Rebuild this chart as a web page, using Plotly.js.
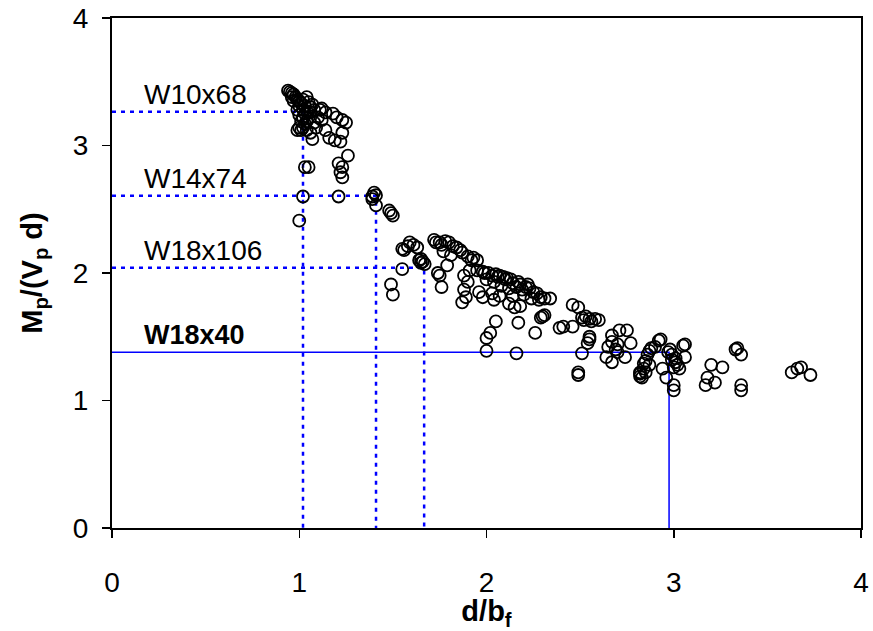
<!DOCTYPE html>
<html><head><meta charset="utf-8">
<script src="https://cdn.plot.ly/plotly-3.0.1.min.js"></script>
<style>html,body{margin:0;padding:0;background:#fff;}#chart{width:873px;height:631px;}</style>
</head><body><div id="chart"></div>
<script>
// Section data: d/bf (x) and Mp/(Vp d) (y)
const xA=[0.94,0.95,0.96,0.97,0.96,0.98,0.99,1.0,0.97,1.01,1.02,1.03,1.04,1.05,1.0,0.99,1.02,1.04,1.06,1.07,1.08,1.0,1.02,1.03,1.05,1.06,1.01,1.03,1.04,1.0,0.99,1.01,1.02,1.04,1.07,1.09,1.10,1.11,1.12,1.14,1.14,1.16,1.18,1.19,1.2,1.22,1.23,1.23,1.25,1.08,1.12,1.06,
1.03,1.05,1.02,1.0,1.21,1.26,1.21,1.23,1.23,1.22];
const yA=[3.43,3.42,3.41,3.40,3.38,3.38,3.36,3.35,3.35,3.33,3.36,3.31,3.38,3.34,3.31,3.28,3.28,3.27,3.30,3.32,3.28,3.24,3.22,3.25,3.22,3.26,3.19,3.17,3.19,3.14,3.12,3.12,3.14,3.12,3.05,3.14,3.22,3.28,3.29,3.26,3.12,3.06,3.25,3.04,3.22,3.03,3.2,3.1,3.18,3.18,3.2,3.1,
2.83,2.83,2.60,2.41,2.60,2.92,2.86,2.83,2.75,2.79];
const xB=[1.39,1.40,1.41,1.39,1.41,1.48,1.50,1.49,1.49,1.50,1.55,1.55,1.58,1.59,1.61,1.63,1.56,1.64,1.65,1.66,1.67,1.65];
const yB=[2.60,2.63,2.61,2.58,2.53,2.49,2.45,2.47,1.91,1.83,2.03,2.19,2.21,2.24,2.22,2.20,2.18,2.10,2.08,2.09,2.07,2.11];
const xC=[1.72,1.73,1.75,1.78,1.80,1.82,1.84,1.86,1.87,1.90,1.93,1.92,1.76,1.74,1.75,1.79,1.76,1.77,1.81,1.95];
const yC=[2.26,2.24,2.24,2.25,2.24,2.21,2.20,2.18,2.16,2.13,2.12,2.10,2.22,2.0,1.98,2.06,1.89,2.17,2.14,2.10];
const xD=[1.88,1.90,1.88,1.89,1.87,1.91,1.95,1.98,2.01,2.03,2.06,2.07,2.10,2.11,2.14,2.16,2.18,2.19,2.22,2.23,2.25,2.27,2.29,2.31,2.34,1.96,1.98,2.03,2.04,2.07,2.12,2.15,2.18,2.14,2.0,2.04,2.08,2.12,2.2,2.24,2.28,1.99,2.05,2.09,2.13,2.17,2.21];
const yD=[1.98,1.93,1.87,1.81,1.77,2.02,2.02,2.01,2.0,1.98,1.97,1.98,1.95,1.96,1.92,1.89,1.91,1.87,1.91,1.88,1.85,1.84,1.81,1.80,1.80,1.85,1.81,1.84,1.79,1.82,1.76,1.73,1.74,1.82,1.95,1.93,1.90,1.88,1.83,1.80,1.79,2.0,1.99,1.97,1.95,1.93,1.89];
const xE=[2.05,2.02,2.0,2.0,2.16,2.17,2.26,2.30,2.29,2.31];
const yE=[1.62,1.53,1.49,1.39,1.37,1.61,1.53,1.66,1.65,1.67];
const xF=[2.46,2.49,2.51,2.55,2.58,2.60,2.53,2.41,2.46,2.39,2.55,2.54,2.55,2.51,2.49,2.49,2.56,2.52];
const yF=[1.75,1.73,1.65,1.64,1.64,1.63,1.66,1.58,1.58,1.57,1.50,1.45,1.48,1.37,1.22,1.20,1.62,1.63];
const xG=[2.67,2.71,2.75,2.67,2.70,2.77,2.64,2.67,2.74,2.70,2.65,2.69];
const yG=[1.51,1.55,1.55,1.46,1.44,1.45,1.34,1.30,1.34,1.38,1.42,1.40];
const xH=[2.83,2.84,2.84,2.85,2.86,2.87,2.88,2.87,2.85,2.82,2.82,2.90,2.93,2.92,2.82];
const yH=[1.18,1.25,1.29,1.31,1.36,1.39,1.41,1.28,1.22,1.21,1.19,1.42,1.48,1.47,1.22];
const xI=[2.97,2.99,3.01,2.99,3.01,3.02,3.0,3.03,3.06,3.05,3.06,2.94,2.96,3.0,3.0,2.98];
const yI=[1.38,1.36,1.33,1.32,1.30,1.28,1.26,1.25,1.44,1.43,1.34,1.25,1.18,1.12,1.08,1.40];
const xJ=[3.2,3.26,3.18,3.17,3.22,3.34,3.33,3.36,3.36,3.36,3.63,3.66,3.68,3.73];
const yJ=[1.28,1.26,1.18,1.12,1.14,1.41,1.40,1.36,1.12,1.08,1.22,1.25,1.26,1.20];

// Reference sections
const refNames=["W10x68","W14x74","W18x106"];
const refX=[1.02,1.41,1.667];
const refY=[3.265,2.606,2.042];
const mainName="W18x40";
const mainX=2.975;
const mainY=1.378;
const labelY=[3.40,2.745,2.18];
const mainLabelY=1.51;

const xs=[].concat(xA,xB,xC,xD,xE,xF,xG,xH,xI,xJ);
const ys=[].concat(yA,yB,yC,yD,yE,yF,yG,yH,yI,yJ);

const FONT='Liberation Sans, Arial, sans-serif';
const traces=[];
for(let i=0;i<refX.length;i++){
  traces.push({x:[0,refX[i],refX[i]],y:[refY[i],refY[i],0],mode:'lines',
    line:{color:'#0000ff',width:2.5,dash:'4px,5px'},hoverinfo:'skip',showlegend:false});
}
traces.push({x:[0,mainX,mainX],y:[mainY,mainY,0],mode:'lines',
  line:{color:'#0000ff',width:1.5},hoverinfo:'skip',showlegend:false});
traces.push({x:xs,y:ys,mode:'markers',type:'scatter',showlegend:false,
  marker:{symbol:'circle-open',size:12,color:'#000',line:{width:1.8,color:'#000'}}});

const annotations=refNames.map((n,i)=>({x:0.16,y:labelY[i],xref:'x',yref:'y',text:n,showarrow:false,
  xanchor:'left',yanchor:'middle',font:{family:FONT,size:28,color:'#000'}}));
annotations.push({x:0.16,y:mainLabelY,xref:'x',yref:'y',text:'<b>'+mainName+'</b>',showarrow:false,
  xanchor:'left',yanchor:'middle',font:{family:FONT,size:27,color:'#000'}});

const axisCommon={range:[0,4],dtick:1,tick0:0,showgrid:false,zeroline:false,showline:true,mirror:true,
  linecolor:'#000',linewidth:2,ticks:'outside',ticklen:8,tickwidth:1.5,tickcolor:'#000',
  tickfont:{family:FONT,size:28,color:'#000'}};

const layout={width:873,height:631,margin:{l:112,r:12,t:18,b:103},
  paper_bgcolor:'#fff',plot_bgcolor:'#fff',showlegend:false,
  xaxis:Object.assign({},axisCommon,{ticklabelstandoff:20,title:{text:'<b>d/b<sub>f</sub></b>',standoff:2,
    font:{family:FONT,size:29,color:'#000'}}}),
  yaxis:Object.assign({},axisCommon,{ticklabelstandoff:8,title:{text:'<b>M<sub>p</sub>/(V<sub>p</sub> d)</b>',standoff:22,
    font:{family:FONT,size:29,color:'#000'}}}),
  annotations:annotations};

Plotly.newPlot('chart',traces,layout,{displayModeBar:false,staticPlot:true});
</script></body></html>
